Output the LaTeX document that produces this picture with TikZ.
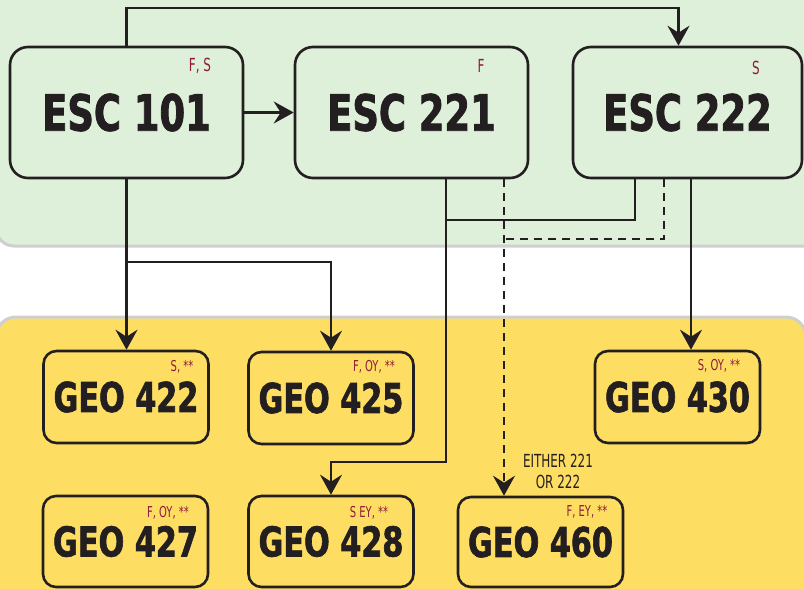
\documentclass[tikz,border=0pt]{standalone}
\usepackage{fontspec}
\newfontfamily\headfont{DejaVu Sans Condensed}[FakeStretch=0.82, BoldFeatures={FakeBold=1.6}]
\newfontfamily\tagfont{DejaVu Sans Condensed}[FakeStretch=0.74]
\usetikzlibrary{arrows.meta,calc}
\definecolor{greenbg}{HTML}{DFF0DA}
\definecolor{yellowbg}{HTML}{FDDE62}
\definecolor{ink}{HTML}{231F20}
\definecolor{tagred}{HTML}{8E1B3A}
\definecolor{rim}{HTML}{CFCFCF}
\begin{document}
\begin{tikzpicture}[x=1pt,y=-1pt,
  box/.style={draw=ink, line width=2.6pt, rounded corners=18pt, inner sep=0pt, text=ink},
  escbox/.style={box, fill=greenbg, minimum width=233pt, minimum height=131pt, font=\headfont\bfseries\fontsize{50}{50}\selectfont},
  geobox/.style={box, fill=yellowbg, rounded corners=13pt, minimum width=165pt, minimum height=92pt, font=\headfont\bfseries\fontsize{41}{41}\selectfont},
  tag/.style={text=tagred, font=\tagfont\fontsize{18}{18}\selectfont, inner sep=0pt},
  gtag/.style={tag, font=\tagfont\fontsize{15}{15}\selectfont},
  link/.style={draw=ink, line width=2.7pt},
  arr/.style={link, -{Stealth[length=20pt,width=22pt,inset=7pt]}},
  dlink/.style={dash pattern=on 8pt off 6pt}
]
\useasboundingbox (0,0) rectangle (804,589);
% background regions
\draw[rim, line width=3pt, fill=greenbg, rounded corners=18pt] (-4,-30) rectangle (830,246);
\draw[rim, line width=3pt, fill=yellowbg, rounded corners=20pt] (-4,317) rectangle (806,620);

% ESC boxes
\node[escbox] (e101) at (126.5,112.5) {ESC 101};
\node[escbox] (e221) at (411.5,112.5) {ESC 221};
\node[escbox, minimum width=229pt] (e222) at (687.5,112.5) {ESC 222};
\node[tag] (t101) at (200,66) {F, S};
\node[tag] (t221) at (481,66) {F};
\node[tag] (t222) at (756,68) {S};

% GEO boxes
\node[geobox] (g422) at (126,397) {GEO 422};
\node[geobox] (g425) at (331,398) {GEO 425};
\node[geobox, minimum height=91pt] (g427) at (125.5,541.5) {GEO 427};
\node[geobox, minimum height=91pt] (g428) at (331,541.5) {GEO 428};
\node[geobox] (g430) at (677.5,397) {GEO 430};
\node[geobox, minimum height=90pt] (g460) at (540.5,542) {GEO 460};
\node[gtag] (t422) at (182,367) {S, **};
\node[gtag] (t425) at (374,367) {F, OY, **};
\node[gtag] (t427) at (168,513) {F, OY, **};
\node[gtag] (t428) at (369,513) {S EY, **};
\node[gtag] (t430) at (719,366) {S, OY, **};
\node[gtag] (t460) at (587,512) {F, EY, **};

\node[text=ink, font=\tagfont\fontsize{18}{21}\selectfont, align=center, inner sep=0pt] (either) at (558,471) {EITHER 221\\OR 222};

% helper coordinates
\coordinate (topline) at (0,8);
\coordinate (split1) at (0,262);
\coordinate (mid) at (0,220);
\coordinate (dashlow) at (0,239);
\coordinate (low) at (0,462);
\coordinate (j1) at ([xshift=34.5pt]e221.south);
\coordinate (s221d) at ([xshift=92.5pt]e221.south);
\coordinate (s222a) at ([xshift=-52.5pt]e222.south);
\coordinate (s222d) at ([xshift=-23.5pt]e222.south);
\coordinate (s222b) at ([xshift=3.5pt]e222.south);
\coordinate (n222) at ([xshift=-9pt]e222.north);

% connectors
\draw[arr] (e101.north) -- (e101.north |- topline) -| (n222);
\draw[arr] (e101.east) -- (e221.west);
\draw[arr] (e101.south) -- (e101.south |- g422.north);
\draw[arr] (e101.south |- split1) -| (g425.north);
\draw[arr] (j1) -- (j1 |- low) -| (g428.north);
\draw[link] (s222a) -- (s222a |- mid) -- (j1 |- mid);
\draw[arr, dlink] (s221d) -- (s221d |- g460.north);
\draw[link, dlink] (s222d) -- (s222d |- dashlow) -- (s221d |- dashlow);
\draw[arr] (s222b) -- (s222b |- g430.north);
\end{tikzpicture}
\end{document}
